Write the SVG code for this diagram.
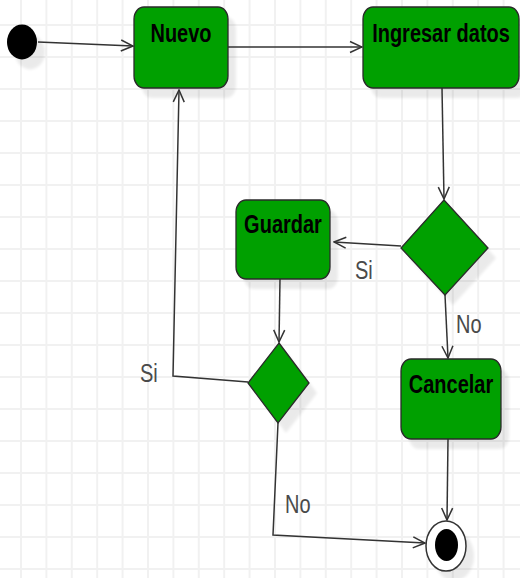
<svg xmlns="http://www.w3.org/2000/svg" width="520" height="578" viewBox="0 0 520 578">
  <style>
    .node { fill: #00a000; stroke: #2a2a2a; stroke-width: 1.3; }
    .shadow { fill: #000; opacity: 0.08; }
    .title { font-family: "Liberation Sans", Arial, sans-serif; font-weight: bold; font-size: 20px; fill: #000; text-anchor: middle; }
    .lbl { font-family: "Liberation Sans", Arial, sans-serif; font-size: 20px; fill: #4a4a4a; }
    .edge { fill: none; stroke: #333; stroke-width: 1.5; marker-end: url(#open); }
  </style>
  <defs>
    <pattern id="grid" patternUnits="userSpaceOnUse" x="20" y="24" width="25.4" height="32">
      <path d="M1 0V32M0 1H25.4" stroke="#f1f1f1" stroke-width="2" fill="none"/>
    </pattern>
    <marker id="open" viewBox="0 0 14 14" refX="13" refY="7" markerWidth="14" markerHeight="14" markerUnits="userSpaceOnUse" orient="auto">
      <path d="M1 1.5L13 7L1 12.5" fill="none" stroke="#333" stroke-width="1.5"/>
    </marker>
    <filter id="soft" x="-20%" y="-20%" width="140%" height="140%">
      <feGaussianBlur stdDeviation="1.5"/>
    </filter>
  </defs>

  <rect width="520" height="578" fill="#fff"/>
  <rect width="520" height="578" fill="url(#grid)"/>

  <!-- drop shadows -->
  <g class="shadow" filter="url(#soft)">
    <ellipse cx="30" cy="52" rx="15" ry="17.5"/>
    <rect x="142" y="17" width="94" height="81" rx="10" ry="12"/>
    <rect x="371" y="17" width="156" height="81" rx="10" ry="12"/>
    <path d="M452 210L496 258L453 305L409 258Z"/>
    <rect x="244" y="210" width="94" height="79" rx="10" ry="12"/>
    <path d="M287 353L317 393L286 433L256 393Z"/>
    <rect x="409" y="369" width="100" height="80" rx="10" ry="12"/>
    <ellipse cx="454" cy="556" rx="20" ry="25"/>
  </g>

  <!-- connectors -->
  <g id="edges">
    <path class="edge" d="M38 42L133 46"/>
    <path class="edge" d="M228 47L362 47"/>
    <path class="edge" d="M442 88L444 199"/>
    <path class="edge" d="M401 246L334 242"/>
    <path class="edge" d="M280 279L279 342"/>
    <path class="edge" d="M248 382L173 376L179 90"/>
    <path class="edge" d="M445 295L448 358"/>
    <path class="edge" d="M448 439L447 520"/>
    <path class="edge" d="M278 423L273 535L425 543"/>
    <g class="lbl">
      <text transform="translate(355 279) scale(1 1.26)">Si</text>
      <text transform="translate(140 382) scale(1 1.26)">Si</text>
      <text transform="translate(456 333) scale(1 1.26)">No</text>
      <text transform="translate(285 513) scale(1 1.26)">No</text>
    </g>
  </g>

  <g id="start">
    <ellipse cx="22" cy="42" rx="15" ry="17.5" fill="#000"/>
  </g>

  <g id="nuevo">
    <rect class="node" x="134" y="7" width="94" height="81" rx="10" ry="12"/>
    <text class="title" transform="translate(181 42) scale(1 1.26)">Nuevo</text>
  </g>

  <g id="ingresar">
    <rect class="node" x="363" y="7" width="156" height="81" rx="10" ry="12"/>
    <text class="title" transform="translate(441 42) scale(1 1.26)">Ingresar datos</text>
  </g>

  <g id="decision1">
    <path class="node" d="M444 200L488 248L445 295L401 248Z"/>
  </g>

  <g id="guardar">
    <rect class="node" x="236" y="200" width="94" height="79" rx="10" ry="12"/>
    <text class="title" transform="translate(283 233) scale(1 1.26)">Guardar</text>
  </g>

  <g id="decision2">
    <path class="node" d="M279 343L309 383L278 423L248 383Z"/>
  </g>

  <g id="cancelar">
    <rect class="node" x="401" y="359" width="100" height="80" rx="10" ry="12"/>
    <text class="title" transform="translate(451 393) scale(1 1.26)">Cancelar</text>
  </g>

  <g id="end">
    <ellipse cx="446" cy="546" rx="20" ry="25" fill="#fff" stroke="#333" stroke-width="1.5"/>
    <ellipse cx="446.5" cy="545" rx="11.5" ry="16" fill="#000"/>
  </g>
</svg>
